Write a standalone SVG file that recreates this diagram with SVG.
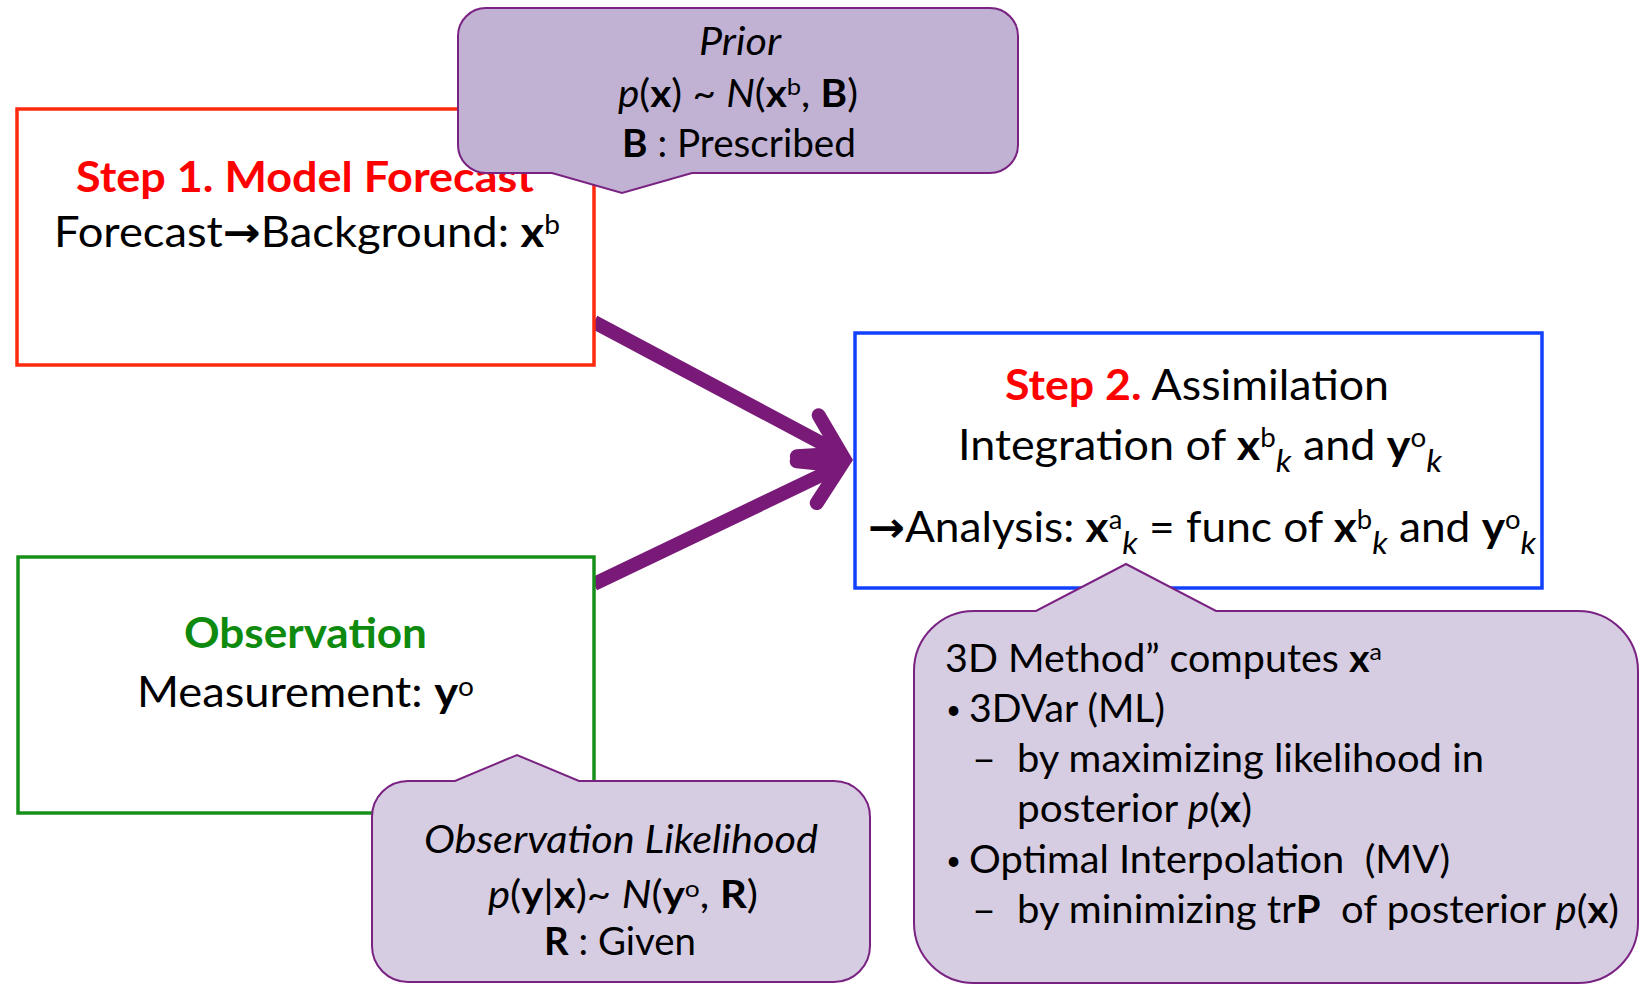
<svg xmlns="http://www.w3.org/2000/svg" width="1641" height="984" viewBox="0 0 1641 984">
<defs>
<style>
text { font-family: Lato, 'Open Sans', 'Liberation Sans', sans-serif; fill: #000; white-space: pre; }
.b { font-weight: bold; }
.i { font-style: italic; }
.arr { font-family: 'DejaVu Sans', sans-serif; font-weight: bold; }
.box { fill: #fff; stroke-width: 3.5; }
.call { stroke: #7A2282; stroke-width: 2; stroke-linejoin: miter; }
.conn { fill: none; stroke: #7A1A78; stroke-width: 14; stroke-linecap: butt; }
.big { font-size: 42px; }
.sm { font-size: 38px; }
.bul { font-size: 26px; }
</style>
<marker id="chev" markerUnits="userSpaceOnUse" orient="auto" refX="0" refY="0" viewBox="-60 -40 80 80" markerWidth="80" markerHeight="80" overflow="visible">
<path d="M-37.9,-23.2 L0,0 L-37.9,23.2" fill="none" stroke="#7A1A78" stroke-width="14" stroke-linecap="round" stroke-linejoin="miter"/>
</marker>
</defs>
<rect width="1641" height="984" fill="#fff"/>

<g id="connectors">
<path class="conn" d="M594,322 L841.2,453.6" marker-end="url(#chev)"/>
<path class="conn" d="M594,584 L840.9,465.8" marker-end="url(#chev)"/>
</g>

<g id="step1">
<rect class="box" x="17" y="109" width="577" height="256" stroke="#FF2A0D"/>
<text x="305" y="192" text-anchor="middle" textLength="458" lengthAdjust="spacingAndGlyphs" class="b big" style="fill:#FF0000">Step 1. Model Forecast</text>
<text x="307" y="247" text-anchor="middle" textLength="506" lengthAdjust="spacingAndGlyphs" class="big">Forecast<tspan class="arr">→</tspan>Background: <tspan class="b">x</tspan><tspan font-size="26" dy="-13">b</tspan></text>
</g>

<g id="observation">
<rect class="box" x="18" y="557" width="576" height="256" stroke="#17901A"/>
<text x="305.5" y="648" text-anchor="middle" textLength="243" lengthAdjust="spacingAndGlyphs" class="b big" style="fill:#0E8A0E">Observation</text>
<text x="305.5" y="707" text-anchor="middle" textLength="337" lengthAdjust="spacingAndGlyphs" class="big">Measurement: <tspan class="b">y</tspan><tspan font-size="26" dy="-11">o</tspan></text>
</g>

<g id="step2">
<rect class="box" x="855" y="333" width="687" height="255" stroke="#1240FF"/>
<text x="1197" y="400" text-anchor="middle" textLength="384" lengthAdjust="spacingAndGlyphs" class="big"><tspan class="b" style="fill:#FF0000">Step 2.</tspan> Assimilation</text>
<text x="1200" y="460" text-anchor="middle" textLength="484" lengthAdjust="spacingAndGlyphs" class="big">Integration of <tspan class="b">x</tspan><tspan font-size="26" dy="-13">b</tspan><tspan font-size="31" class="i" dy="25">k</tspan><tspan dy="-12"> and </tspan><tspan class="b">y</tspan><tspan font-size="26" dy="-13">o</tspan><tspan font-size="31" class="i" dy="25">k</tspan></text>
<text x="1202" y="542" text-anchor="middle" textLength="668" lengthAdjust="spacingAndGlyphs" class="big"><tspan class="arr">→</tspan>Analysis: <tspan class="b">x</tspan><tspan font-size="26" dy="-13">a</tspan><tspan font-size="31" class="i" dy="25">k</tspan><tspan dy="-12"> = func of </tspan><tspan class="b">x</tspan><tspan font-size="26" dy="-13">b</tspan><tspan font-size="31" class="i" dy="25">k</tspan><tspan dy="-12"> and </tspan><tspan class="b">y</tspan><tspan font-size="26" dy="-13">o</tspan><tspan font-size="31" class="i" dy="25">k</tspan></text>
</g>

<g id="prior">
<path class="call" fill="#C1B2D4" d="M486,8 H990 A28,28 0 0 1 1018,36 V145 A28,28 0 0 1 990,173 H692 L622,193 L552,173 H486 A28,28 0 0 1 458,145 V36 A28,28 0 0 1 486,8 Z"/>
<text x="740" y="55" text-anchor="middle" textLength="82" lengthAdjust="spacingAndGlyphs" class="sm i">Prior</text>
<text x="738" y="107" text-anchor="middle" textLength="240" lengthAdjust="spacingAndGlyphs" class="sm"><tspan class="i">p</tspan>(<tspan class="b">x</tspan>) ~ <tspan class="i">N</tspan>(<tspan class="b">x</tspan><tspan font-size="24" dy="-12">b</tspan><tspan dy="12">, </tspan><tspan class="b">B</tspan>)</text>
<text x="739" y="157" text-anchor="middle" textLength="234" lengthAdjust="spacingAndGlyphs" class="sm"><tspan class="b">B</tspan> : Prescribed</text>
</g>

<g id="likelihood">
<path class="call" fill="#D7CDE2" d="M408,781 H455 L517,755 L579,781 H834 A36,36 0 0 1 870,817 V946 A36,36 0 0 1 834,982 H408 A36,36 0 0 1 372,946 V817 A36,36 0 0 1 408,781 Z"/>
<text x="621" y="853" text-anchor="middle" textLength="394" lengthAdjust="spacingAndGlyphs" class="sm i">Observation Likelihood</text>
<text x="623" y="908" text-anchor="middle" textLength="270" lengthAdjust="spacingAndGlyphs" class="sm"><tspan class="i">p</tspan>(<tspan class="b">y</tspan>|<tspan class="b">x</tspan>)~ <tspan class="i">N</tspan>(<tspan class="b">y</tspan><tspan font-size="24" dy="-11">o</tspan><tspan dy="11">, </tspan><tspan class="b">R</tspan>)</text>
<text x="620" y="955" text-anchor="middle" textLength="152" lengthAdjust="spacingAndGlyphs" class="sm"><tspan class="b">R</tspan> : Given</text>
</g>

<g id="method3d">
<path class="call" fill="#D7CDE2" d="M974,611 H1036 L1126,564 L1216,611 H1578 A60,60 0 0 1 1638,671 V923 A60,60 0 0 1 1578,983 H974 A60,60 0 0 1 914,923 V671 A60,60 0 0 1 974,611 Z"/>
<text x="945" y="672" textLength="437" lengthAdjust="spacingAndGlyphs" class="sm">3D Method” computes <tspan class="b">x</tspan><tspan font-size="24" dy="-12">a</tspan></text>
<text x="946" y="719" class="bul">•</text>
<text x="969" y="722" textLength="196" lengthAdjust="spacingAndGlyphs" class="sm">3DVar (ML)</text>
<text x="972" y="772" textLength="24" lengthAdjust="spacingAndGlyphs" class="sm">–</text>
<text x="1017" y="772" textLength="467" lengthAdjust="spacingAndGlyphs" class="sm">by maximizing likelihood in</text>
<text x="1017" y="822" textLength="235" lengthAdjust="spacingAndGlyphs" class="sm">posterior <tspan class="i">p</tspan>(<tspan class="b">x</tspan>)</text>
<text x="946" y="870" class="bul">•</text>
<text x="969" y="873" textLength="481" lengthAdjust="spacingAndGlyphs" class="sm">Optimal Interpolation  (MV)</text>
<text x="972" y="923" textLength="24" lengthAdjust="spacingAndGlyphs" class="sm">–</text>
<text x="1017" y="923" textLength="602" lengthAdjust="spacingAndGlyphs" class="sm">by minimizing tr<tspan class="b">P</tspan>  of posterior <tspan class="i">p</tspan>(<tspan class="b">x</tspan>)</text>
</g>
</svg>
